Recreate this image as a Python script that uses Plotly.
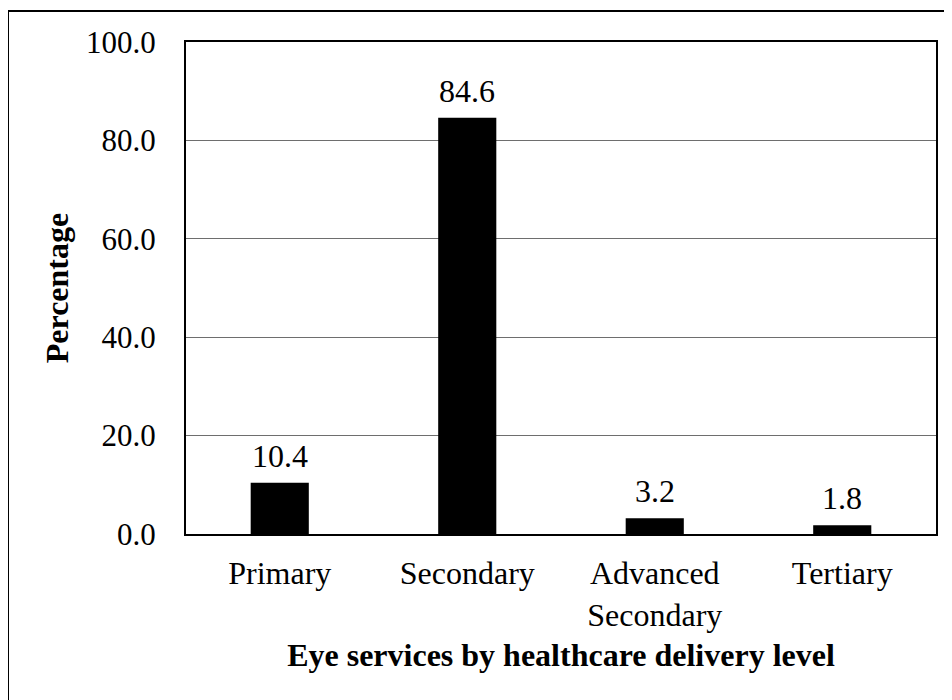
import plotly.graph_objects as go

categories = ["Primary", "Secondary", "Advanced<br>Secondary", "Tertiary"]
values = [10.4, 84.6, 3.2, 1.8]
value_labels = ["10.4", "84.6", "3.2", "1.8"]
y_ticks = [0, 20, 40, 60, 80, 100]
y_tick_labels = ["0.0", "20.0", "40.0", "60.0", "80.0", "100.0"]

FONT = "Liberation Serif, Times New Roman, serif"

# page body has 8px margin; compensate so plot area sits at 186..936 x 42..534
L, R, T, B = 178, 24, 34, 174
PW, PH = 952 - L - R, 700 - T - B

fig = go.Figure()
fig.add_trace(go.Bar(
    x=categories, y=values, marker=dict(color="black", line=dict(width=0)),
    width=0.31, showlegend=False, hoverinfo="skip",
))

for c, v, t in zip(categories, values, value_labels):
    fig.add_annotation(x=c, y=v, text=t, showarrow=False, yanchor="bottom",
                       yshift=7, font=dict(family=FONT, size=32, color="black"))

fig.update_layout(
    width=952, height=700,
    margin=dict(l=L, r=R, t=T, b=B),
    paper_bgcolor="white", plot_bgcolor="white",
    font=dict(family=FONT, size=32, color="black"),
)
fig.update_xaxes(
    showline=True, linecolor="black", linewidth=2, mirror=True,
    showgrid=False, ticks="", ticklabelstandoff=10, tickfont=dict(family=FONT, size=32),
    title=dict(text="<b>Eye services by healthcare delivery level</b>",
               font=dict(family=FONT, size=32), standoff=12),
)
fig.update_yaxes(
    range=[0, 100], tickvals=y_ticks, ticktext=y_tick_labels,
    showline=True, linecolor="black", linewidth=2, mirror=True,
    showgrid=True, gridcolor="#6e6e6e", gridwidth=1, zeroline=False,
    ticks="", ticklabelstandoff=22, tickfont=dict(family=FONT, size=31),
    title=dict(text="<b>Percentage</b>", font=dict(family=FONT, size=32), standoff=8),
)

# outer frame around whole chart (page coords: left 8, top 11; extends past right/bottom)
fig.add_shape(type="rect", xref="paper", yref="paper",
              x0=(0 - L) / PW, x1=(970 - L) / PW,
              y0=-(B + 20) / PH, y1=(PH + T - 3) / PH,
              line=dict(color="black", width=2), fillcolor="rgba(0,0,0,0)", layer="above")

fig.write_html("out.html")
